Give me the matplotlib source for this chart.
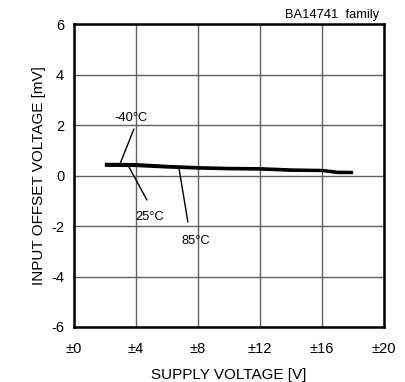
import matplotlib
matplotlib.use("Agg")
import matplotlib.pyplot as plt
import numpy as np

plt.rcParams['font.family'] = ['Liberation Sans', 'DejaVu Sans']
plt.rcParams['axes.unicode_minus'] = False

# supply voltage (+/- V) and offset voltage (mV) per temperature
vcc = [2, 4, 6, 8, 10, 12, 14, 16, 17, 18]
vio_m40 = [0.46, 0.45, 0.38, 0.33, 0.30, 0.29, 0.24, 0.22, 0.15, 0.14]
vio_25 = [0.42, 0.41, 0.35, 0.30, 0.27, 0.26, 0.21, 0.20, 0.12, 0.12]
vio_85 = [0.39, 0.38, 0.32, 0.28, 0.25, 0.24, 0.19, 0.18, 0.10, 0.10]

xticks = [0, 4, 8, 12, 16, 20]
xlabels = ["±0", "±4", "±8", "±12", "±16", "±20"]
yticks = [-6, -4, -2, 0, 2, 4, 6]

fig = plt.figure(figsize=(4.06, 3.82), dpi=100)
ax = fig.add_axes([0.182, 0.144, 0.764, 0.793])

for v in (vio_m40, vio_25, vio_85):
    ax.plot(vcc, v, color="black", lw=1.7, solid_capstyle="butt")

ax.set_xlim(0, 20)
ax.set_ylim(-6, 6)
ax.set_xticks(xticks)
ax.set_xticklabels(xlabels)
ax.set_yticks(yticks)
ax.tick_params(length=0, labelsize=10.5)
ax.tick_params(axis="x", pad=11)
ax.tick_params(axis="y", pad=7)
ax.grid(True, color="#606060", lw=1)
for s in ax.spines.values():
    s.set_linewidth(1.8)

ax.set_xlabel("SUPPLY VOLTAGE [V]", fontsize=11, va="center")
ax.xaxis.set_label_coords(0.5, -0.16)
ax.set_ylabel("INPUT OFFSET VOLTAGE [mV]", fontsize=11, labelpad=4)

# temperature labels and their leader lines
ax.text(3.7, 2.28, "-40°C", fontsize=9.3, ha="center", va="center")
ax.text(4.9, -1.64, "25°C", fontsize=9.3, ha="center", va="center")
ax.text(7.85, -2.6, "85°C", fontsize=9.3, ha="center", va="center")
leader = dict(arrowstyle="-", lw=1, color="black", shrinkA=0, shrinkB=0)
ax.annotate("", xy=(2.97, 0.46), xytext=(3.87, 1.84), arrowprops=leader)
ax.annotate("", xy=(3.48, 0.42), xytext=(4.71, -0.97), arrowprops=leader)
ax.annotate("", xy=(6.77, 0.31), xytext=(7.35, -1.84), arrowprops=leader)

fig.text(0.935, 0.962, "BA14741  family", fontsize=9.3, ha="right", va="center")

fig.savefig("out.png", dpi=100)
